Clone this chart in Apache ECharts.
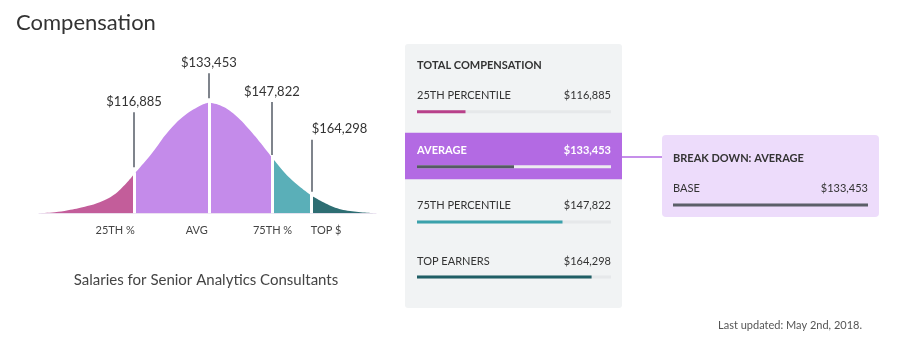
<!DOCTYPE html>
<html>
<head>
<meta charset="utf-8">
<script src="https://cdn.jsdelivr.net/npm/echarts@6/dist/echarts.min.js"></script>
<style>
  html, body { margin: 0; padding: 0; background: #fff; }
  #main { width: 899px; height: 354px; }
</style>
</head>
<body>
<div id="main"></div>
<script>
// bell curve (position 0-100 across, height in px)
const curvePos    = [0, 4.7, 8.6, 13.6, 18.7, 23.4, 28.2, 33.5, 38.3, 43.3, 48.4, 50.4, 53.7, 57.6, 62.6, 69.1, 74.5, 80.9, 87.2, 92.3, 100];
const curveHeight = [0, 1, 3, 6.5, 12, 21.6, 39, 60, 81.6, 98, 108.5, 110.5, 108, 100, 83, 56, 35, 17.5, 6.6, 2.3, 0];

const cutPos    = [28.2, 50.4, 69.1, 80.9];
const cutValues = [116885, 133453, 147822, 164298];
const segLabels   = ['25TH %', 'AVG', '75TH %', 'TOP $'];
const segLabelPos = [22.6, 46.8, 69.3, 85.2];

const rowNames   = ['25TH PERCENTILE', 'AVERAGE', '75TH PERCENTILE', 'TOP EARNERS'];
const rowPercent = [25, 50, 75, 90];

const breakNames  = ['BASE'];
const breakValues = [133453];

const FONT = 'Lato, "Open Sans", sans-serif';
const fmt = v => '$' + v.toLocaleString('en-US');

// curve colours per segment (split at every cut)
const segColors = ['#c35d9a', '#c48bea', '#c48bea', '#5aafb8', '#2e6e73'];
const bounds = [0].concat(cutPos, [100]);
const curve = curvePos.map((p, i) => [p, curveHeight[i]]);
const heightAt = p => curve.find(d => d[0] === p)[1];

const segSeries = segColors.map((c, i) => ({
    type: 'line',
    xAxisIndex: 0, yAxisIndex: 0,
    smooth: 0.4,
    showSymbol: false,
    silent: true,
    lineStyle: { width: 0 },
    areaStyle: { color: c, opacity: 1 },
    data: curve.filter(d => d[0] >= bounds[i] && d[0] <= bounds[i + 1])
}));

// leader line spans above each cut (gap above curve, length)
const leader = [[7, 55], [4.5, 25], [2.3, 53], [4, 52]];

const markSeries = {
    type: 'line',
    xAxisIndex: 0, yAxisIndex: 0,
    data: [],
    markLine: {
        silent: true,
        symbol: 'none',
        animation: false,
        data: cutPos.map(p => [
            { coord: [p, 0], lineStyle: { color: '#fff', width: 3, type: 'solid' }, label: { show: false } },
            { coord: [p, heightAt(p) + 2] }
        ]).concat(cutPos.map((p, i) => [
            {
                coord: [p, heightAt(p) + leader[i][0]],
                lineStyle: { color: '#555b66', width: 1.5, type: 'solid' },
                label: {
                    show: true, position: 'end', distance: 4,
                    formatter: fmt(cutValues[i]),
                    color: '#333', fontSize: 13, fontFamily: FONT,
                    align: i === 3 ? 'left' : 'center'
                }
            },
            { coord: [p, heightAt(p) + leader[i][0] + leader[i][1]] }
        ]))
    },
    markPoint: {
        silent: true,
        symbol: 'circle',
        symbolSize: 0,
        animation: false,
        label: {
            show: true, position: 'inside', offset: [0, 17],
            formatter: '{b}', color: '#444', fontSize: 11, fontFamily: FONT
        },
        data: segLabels.map((s, i) => ({ name: s, coord: [segLabelPos[i], 0] }))
    }
};

const trackColors = ['#e6e8ea', '#ececf0', '#e6e8ea', '#e6e8ea'];
const fillColors  = ['#b8408a', '#555a63', '#3aa1ab', '#1f5e65'];

const trackSeries = {
    type: 'bar',
    xAxisIndex: 1, yAxisIndex: 1,
    barWidth: 3, barGap: '-100%',
    silent: true, animation: false,
    data: rowNames.map((n, i) => {
        const col = i === 1 ? '#fff' : '#333';
        const w = i === 1 ? 'bold' : 'normal';
        return {
            value: 100,
            itemStyle: { color: trackColors[i] },
            label: {
                show: true,
                position: [0, -14.5],
                align: 'left', verticalAlign: 'middle',
                width: 194,
                formatter: '{n|' + n + '}{v|' + fmt(cutValues[i]) + '}',
                rich: {
                    n: { align: 'left', fontSize: 11, fontFamily: FONT, color: col, fontWeight: w },
                    v: { align: 'right', fontSize: 11, fontFamily: FONT, color: col, fontWeight: w }
                }
            }
        };
    })
};

const fillSeries = {
    type: 'bar',
    xAxisIndex: 1, yAxisIndex: 1,
    barWidth: 3, barGap: '-100%',
    silent: true, animation: false,
    data: rowPercent.map((v, i) => ({ value: v, itemStyle: { color: fillColors[i] } }))
};

const breakSeries = {
    type: 'bar',
    xAxisIndex: 2, yAxisIndex: 2,
    barWidth: 3,
    silent: true, animation: false,
    itemStyle: { color: '#5b5f68' },
    data: breakNames.map((n, i) => ({
        value: 100,
        label: {
            show: true,
            position: [0, -15],
            align: 'left', verticalAlign: 'middle',
            width: 195,
            formatter: '{n|' + n + '}{v|' + fmt(breakValues[i]) + '}',
            rich: {
                n: { align: 'left', fontSize: 11, fontFamily: FONT, color: '#333' },
                v: { align: 'right', fontSize: 11, fontFamily: FONT, color: '#333' }
            }
        }
    }))
};

const hidden = { show: false };

const option = {
    backgroundColor: '#fff',
    animation: false,
    title: {
        text: 'Compensation',
        left: 16, top: 12, padding: 0,
        textStyle: { fontSize: 22, fontWeight: 'normal', color: '#333', fontFamily: FONT }
    },
    grid: [
        { left: 39, width: 337, top: 13.3, height: 200 },
        { left: 417, width: 194, top: 84.2, height: 220.4 },
        { left: 673, width: 195, top: 185, height: 40 }
    ],
    xAxis: [
        { type: 'value', gridIndex: 0, min: 0, max: 100, splitLine: hidden, axisTick: hidden, axisLabel: hidden,
          axisLine: { show: true, lineStyle: { color: '#eee6f3', width: 1 } } },
        { type: 'value', gridIndex: 1, min: 0, max: 100, show: false },
        { type: 'value', gridIndex: 2, min: 0, max: 100, show: false }
    ],
    yAxis: [
        { type: 'value', gridIndex: 0, min: 0, max: 200, show: false },
        { type: 'category', gridIndex: 1, data: rowNames, inverse: true, show: false },
        { type: 'category', gridIndex: 2, data: breakNames, show: false }
    ],
    graphic: [
        { type: 'rect', z: -10, shape: { x: 405, y: 44, width: 217, height: 264, r: 3 }, style: { fill: '#f1f3f4' } },
        { type: 'rect', z: -9, shape: { x: 405, y: 132.7, width: 217, height: 46.6 }, style: { fill: '#b36ae3' } },
        { type: 'line', z: -9, shape: { x1: 622, y1: 157, x2: 662, y2: 157 }, style: { stroke: '#b36ae3', lineWidth: 1.5 } },
        { type: 'rect', z: -10, shape: { x: 662, y: 135, width: 217, height: 82, r: 4 }, style: { fill: '#eddcfb' } },
        { type: 'text', z: 10, x: 417, y: 65.3, style: { text: 'TOTAL COMPENSATION', fontSize: 11, fontWeight: 'bold', fontFamily: FONT, fill: '#333', textVerticalAlign: 'middle' } },
        { type: 'text', z: 10, x: 673, y: 158.3, style: { text: 'BREAK DOWN: AVERAGE', fontSize: 11, fontWeight: 'bold', fontFamily: FONT, fill: '#333', textVerticalAlign: 'middle' } },
        { type: 'text', z: 10, x: 206, y: 280, style: { text: 'Salaries for Senior Analytics Consultants', fontSize: 15, fontFamily: FONT, fill: '#444', textAlign: 'center', textVerticalAlign: 'middle' } },
        { type: 'text', z: 10, x: 862, y: 325, style: { text: 'Last updated: May 2nd, 2018.', fontSize: 11, fontFamily: FONT, fill: '#555', textAlign: 'right', textVerticalAlign: 'middle' } }
    ],
    series: segSeries.concat([markSeries, trackSeries, fillSeries, breakSeries])
};

const chart = echarts.init(document.getElementById('main'));
chart.setOption(option);
</script>
</body>
</html>
